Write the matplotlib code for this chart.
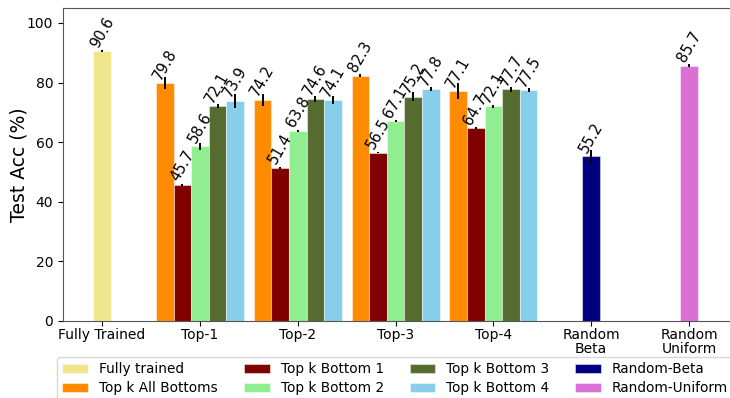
import numpy as np
import matplotlib
matplotlib.use("Agg")
import matplotlib.pyplot as plt

# Tick labels along the x axis
tick_labels = ["Fully Trained", "Top-1", "Top-2", "Top-3", "Top-4", "Random\nBeta", "Random\nUniform"]

# Single-bar results
fully_trained = 90.6
fully_trained_err = 0.2
random_beta = 55.2
random_beta_err = 2.2
random_uniform = 85.7
random_uniform_err = 0.4

# Grouped results for Top-1 .. Top-4
top_k_all = [79.8, 74.2, 82.3, 77.1]
top_k_all_err = [2.0, 2.0, 0.4, 2.7]
top_k_b1 = [45.7, 51.4, 56.5, 64.7]
top_k_b1_err = [0.3, 0.4, 0.2, 0.3]
top_k_b2 = [58.6, 63.8, 67.1, 72.1]
top_k_b2_err = [1.2, 0.4, 0.3, 0.5]
top_k_b3 = [72.1, 74.6, 75.2, 77.7]
top_k_b3_err = [0.7, 1.0, 1.5, 0.8]
top_k_b4 = [73.9, 74.1, 77.8, 77.5]
top_k_b4_err = [2.4, 1.4, 0.8, 0.7]

group_series = [
    ("Top k All Bottoms", top_k_all, top_k_all_err, "darkorange"),
    ("Top k Bottom 1", top_k_b1, top_k_b1_err, "maroon"),
    ("Top k Bottom 2", top_k_b2, top_k_b2_err, "lightgreen"),
    ("Top k Bottom 3", top_k_b3, top_k_b3_err, "darkolivegreen"),
    ("Top k Bottom 4", top_k_b4, top_k_b4_err, "skyblue"),
]

width = 0.18
fig = plt.figure(figsize=(7.3, 3.98), dpi=100)
ax = fig.add_axes([63 / 730, 77 / 398, 668 / 730, 313 / 398])

bar_kw = dict(edgecolor=(1, 1, 1, 0.45), linewidth=0.8,
              error_kw=dict(ecolor="black", elinewidth=1.4, capsize=0))


def label_bars(bars, values):
    for b, v in zip(bars, values):
        ax.text(b.get_x() + b.get_width() / 2, v + 0.3, f"{v:.1f}",
                rotation=60, ha="center", va="bottom", fontsize=10.5)


x = np.arange(len(tick_labels))

handles = []
h = ax.bar(x[0], fully_trained, width, yerr=fully_trained_err, color="khaki",
           label="Fully trained", **bar_kw)
label_bars(h, [fully_trained])
handles.append(h)

group_x = x[1:5]
for i, (name, vals, errs, col) in enumerate(group_series):
    pos = group_x + (i - 2) * width
    h = ax.bar(pos, vals, width, yerr=errs, color=col, label=name, **bar_kw)
    label_bars(h, vals)
    handles.append(h)

h = ax.bar(x[5], random_beta, width, yerr=random_beta_err, color="navy",
           label="Random-Beta", **bar_kw)
label_bars(h, [random_beta])
handles.append(h)

h = ax.bar(x[6], random_uniform, width, yerr=random_uniform_err, color="orchid",
           label="Random-Uniform", **bar_kw)
label_bars(h, [random_uniform])
handles.append(h)

ax.set_xlim(-0.4, 6.43)
ax.set_ylim(0, 105)
ax.set_xticks(x)
ax.set_xticklabels(tick_labels, fontsize=10, linespacing=1.0)
ax.tick_params(axis="x", pad=1.5)
ax.set_yticks([0, 20, 40, 60, 80, 100])
ax.tick_params(axis="y", labelsize=10)
ax.set_ylabel("Test Acc (%)", fontsize=13.5)
ax.yaxis.set_label_coords(-0.052, 0.5)
for s in ax.spines.values():
    s.set_color("#555555")

fig.legend(handles, [hd.get_label() for hd in handles],
           loc="upper left", bbox_to_anchor=(57 / 730, 1 - 357 / 398),
           ncol=4, fontsize=9.8, borderaxespad=0, columnspacing=1.9,
           handlelength=1.9, labelspacing=0.35)

fig.savefig("out.png", dpi=100)
